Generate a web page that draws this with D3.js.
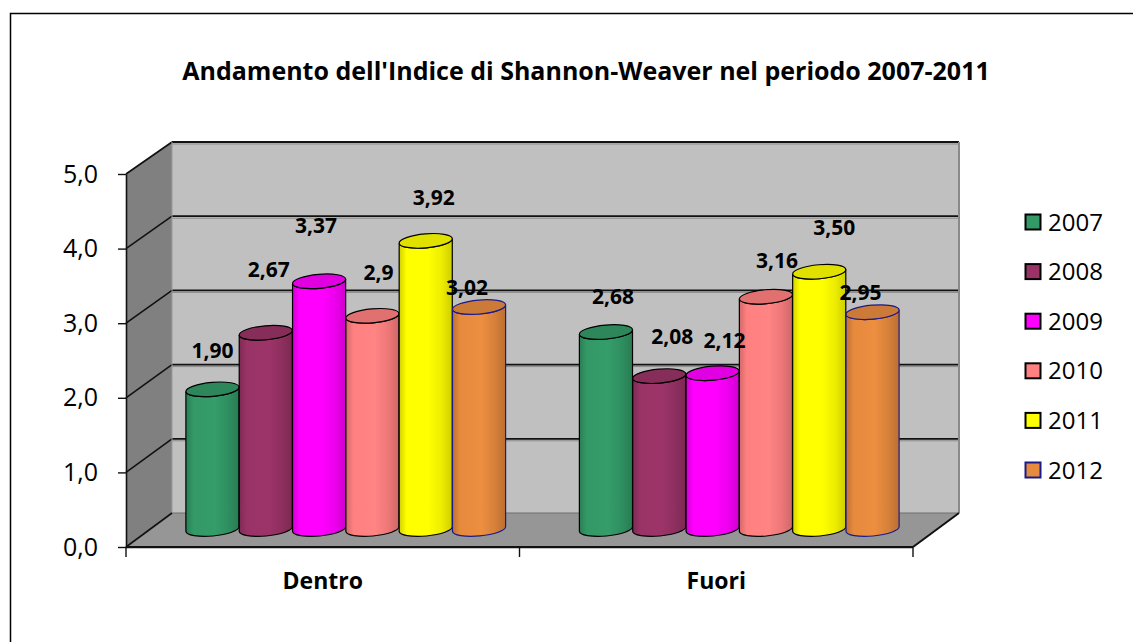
<!DOCTYPE html>
<html>
<head>
<meta charset="utf-8">
<script src="https://cdn.jsdelivr.net/npm/d3@7"></script>
<style>
  body { margin: 0; background: #fff; }
  svg { display: block; }
  text { font-family: "Open Sans", "DejaVu Sans", sans-serif; fill: #000; }
</style>
</head>
<body>
<svg id="chart" width="1133" height="642"></svg>
<script>
// ---- data ----
const title = "Andamento dell'Indice di Shannon-Weaver nel periodo 2007-2011";
const categories = ["Dentro", "Fuori"];
const years = ["2007", "2008", "2009", "2010", "2011", "2012"];
const dentroValues = [1.90, 2.67, 3.37, 2.9, 3.92, 3.02];
const fuoriValues = [2.68, 2.08, 2.12, 3.16, 3.50, 2.95];
// decimals shown in each value label
const dentroDecimals = [2, 2, 2, 1, 2, 2];
const fuoriDecimals = [2, 2, 2, 2, 2, 2];
const yTickValues = [0, 1, 2, 3, 4, 5];

// ---- styling / layout ----
const seriesFill = ["#339966", "#993366", "#FF00FF", "#FF8080", "#FFFF00", "#E68A3E"];
const seriesLine = ["#000", "#000", "#000", "#000", "#000", "#1A1A8C"];
// value label nudges [dx, dy] from the top of each cylinder, per year, per category
const labelNudge = [
  [[0, -39], [7, -36]],
  [[3, -63], [13, -40]],
  [[-3, -56], [12, -33]],
  [[6, -43], [11, -36]],
  [[8, -43], [15, -44]],
  [[-12, -20], [-12, -20]]
];

const valuesByCategory = { "Dentro": dentroValues, "Fuori": fuoriValues };
const decimalsByCategory = { "Dentro": dentroDecimals, "Fuori": fuoriDecimals };
const rows = [];
categories.forEach((c, ci) => {
  years.forEach((y, si) => rows.push({
    category: c, ci, year: y, si,
    value: valuesByCategory[c][si], decimals: decimalsByCategory[c][si]
  }));
});

const svg = d3.select("#chart");
const defs = svg.append("defs");

const itLocale = d3.formatLocale({ decimal: ",", thousands: ".", grouping: [3], currency: ["", "€"] });
const fmt1 = itLocale.format(".1f");
const fmtLabel = d => itLocale.format(`.${d.decimals}f`)(d.value);

// 3D box geometry
const depthX = 46;
const x0 = 126, x1 = 913;
const xCat = d3.scaleBand().domain(categories).range([x0, x1]).paddingInner(0).paddingOuter(0);
const yFront = d3.scaleLinear().domain([0, 5]).range([547, 174]);
const yBack = d3.scaleLinear().domain([0, 5]).range([513, 142]);
const yBar = d3.scaleLinear().domain([0, 5]).range([529, 161.5]);
const xYear = d3.scaleBand().domain(years).range([0, xCat.bandwidth()]).paddingInner(0).paddingOuter(0.69);

// outer frame
svg.append("rect").attr("x", 10.5).attr("y", 13.5).attr("width", 1200).attr("height", 700)
  .attr("fill", "#fff").attr("stroke", "#000").attr("stroke-width", 1.5);

// title
svg.append("text").attr("x", 586).attr("y", 80).attr("text-anchor", "middle")
  .attr("font-size", 25).attr("font-weight", 700).text(title);

// walls
const bx0 = x0 + depthX, bx1 = x1 + depthX;
svg.append("polygon")
  .attr("points", [[x0, yFront(5)], [bx0, yBack(5)], [bx0, yBack(0)], [x0, yFront(0)]].join(" "))
  .attr("fill", "#808080");
svg.append("rect").attr("x", bx0).attr("y", yBack(5)).attr("width", bx1 - bx0).attr("height", yBack(0) - yBack(5))
  .attr("fill", "#C0C0C0");
svg.append("polygon")
  .attr("points", [[x0, yFront(0)], [bx0, yBack(0)], [bx1, yBack(0)], [x1, yFront(0)]].join(" "))
  .attr("fill", "#969696");

// gridlines on back wall and side wall
const grid = svg.append("g");
yTickValues.filter(v => v > 0).forEach(v => {
  grid.append("line").attr("x1", bx0).attr("x2", bx1).attr("y1", yBack(v) + 2).attr("y2", yBack(v) + 2)
    .attr("stroke", "#8a8a8a").attr("stroke-width", 1);
  grid.append("line").attr("x1", bx0).attr("x2", bx1).attr("y1", yBack(v)).attr("y2", yBack(v))
    .attr("stroke", "#111").attr("stroke-width", 1.8);
  grid.append("line").attr("x1", x0).attr("x2", bx0).attr("y1", yFront(v)).attr("y2", yBack(v))
    .attr("stroke", "#111").attr("stroke-width", 1.6);
});
grid.append("line").attr("x1", bx0).attr("x2", bx1).attr("y1", yBack(0)).attr("y2", yBack(0))
  .attr("stroke", "#6e6e6e").attr("stroke-width", 1.2);
grid.append("line").attr("x1", bx1).attr("x2", bx1).attr("y1", yBack(5)).attr("y2", yBack(0))
  .attr("stroke", "#8a8a8a").attr("stroke-width", 2);
grid.append("line").attr("x1", bx0).attr("x2", bx0).attr("y1", yBack(5)).attr("y2", yBack(0))
  .attr("stroke", "#9a9a9a").attr("stroke-width", 1);
// floor edges
grid.append("line").attr("x1", x0).attr("x2", bx0).attr("y1", yFront(0)).attr("y2", yBack(0))
  .attr("stroke", "#111").attr("stroke-width", 1.6);
grid.append("line").attr("x1", x1).attr("x2", bx1).attr("y1", yFront(0)).attr("y2", yBack(0))
  .attr("stroke", "#111").attr("stroke-width", 2);
grid.append("line").attr("x1", x0).attr("x2", x1).attr("y1", yFront(0) + 1).attr("y2", yFront(0) + 1)
  .attr("stroke", "#8a8a8a").attr("stroke-width", 1);
grid.append("line").attr("x1", x0).attr("x2", x1).attr("y1", yFront(0)).attr("y2", yFront(0))
  .attr("stroke", "#111").attr("stroke-width", 2);

// y axis
const yAxis = svg.append("g").attr("transform", `translate(${x0},0)`)
  .call(d3.axisLeft(yFront).tickValues(yTickValues).tickFormat(fmt1).tickSize(8).tickSizeOuter(0).tickPadding(20));
yAxis.select(".domain").attr("stroke", "#111").attr("stroke-width", 1.6);
yAxis.selectAll(".tick line").attr("stroke", "#111").attr("stroke-width", 1.4);
yAxis.selectAll("text").attr("font-size", 25).attr("font-family", "'Open Sans', sans-serif").attr("fill", "#000");

// x axis: category names centered, tick marks at category boundaries
const xAxis = svg.append("g").attr("transform", `translate(0,${yFront(0)})`)
  .call(d3.axisBottom(xCat).tickSize(0).tickPadding(26));
xAxis.select(".domain").remove();
xAxis.selectAll("text").attr("font-size", 23).attr("font-weight", 700)
  .attr("font-family", "'Open Sans', sans-serif").attr("fill", "#000");
const bounds = categories.map(c => xCat(c)).concat([xCat(categories[categories.length - 1]) + xCat.bandwidth()]);
svg.append("g").selectAll("line").data(bounds).join("line")
  .attr("x1", d => d).attr("x2", d => d).attr("y1", yFront(0)).attr("y2", yFront(0) + 10)
  .attr("stroke", "#111").attr("stroke-width", 1.4);

// cylinder gradients
seriesFill.forEach((c, i) => {
  const base = d3.color(c);
  const g = defs.append("linearGradient").attr("id", "cyl" + i).attr("x1", 0).attr("x2", 1).attr("y1", 0).attr("y2", 0);
  [[0, base.darker(0.55)], [0.14, base], [0.55, base.brighter(0.08)], [0.8, base.darker(0.2)], [1, base.darker(0.6)]]
    .forEach(([o, col]) => g.append("stop").attr("offset", o).attr("stop-color", col.formatHex()));
});

// cylinders
const rx = xYear.bandwidth() / 2;
const ry = 7;
const tilt = -5;
const ex = rx * Math.cos(tilt * Math.PI / 180), ey = rx * Math.sin(tilt * Math.PI / 180);
const barShift = depthX / 2;

const bars = svg.append("g").selectAll("g").data(rows).join("g");
bars.each(function (d) {
  const g = d3.select(this);
  const cx = xCat(d.category) + barShift + xYear(d.year) + rx;
  const yt = yBar(d.value), yb = yBar(0);
  d.cx = cx; d.yt = yt;
  const p = `M${cx - ex},${yt - ey} L${cx - ex},${yb - ey} A${rx},${ry} ${tilt} 0 0 ${cx + ex},${yb + ey} L${cx + ex},${yt + ey} A${rx},${ry} ${tilt} 0 1 ${cx - ex},${yt - ey} Z`;
  g.append("path").attr("d", p).attr("fill", `url(#cyl${d.si})`)
    .attr("stroke", seriesLine[d.si]).attr("stroke-width", 1.2);
  g.append("ellipse").attr("cx", cx).attr("cy", yt).attr("rx", rx).attr("ry", ry)
    .attr("transform", `rotate(${tilt},${cx},${yt})`)
    .attr("fill", d3.color(seriesFill[d.si]).darker(0.35).formatHex())
    .attr("stroke", seriesLine[d.si]).attr("stroke-width", 1.2);
});

// value labels
const labelSize = 21;
svg.append("g").selectAll("text").data(rows).join("text")
  .attr("x", d => d.cx + labelNudge[d.si][d.ci][0])
  .attr("y", d => d.yt + labelNudge[d.si][d.ci][1] + 0.36 * labelSize)
  .attr("text-anchor", "middle").attr("font-size", labelSize).attr("font-weight", 700)
  .text(fmtLabel);

// legend
const legendY = d3.scalePoint().domain(years).range([222, 470]);
const legend = svg.append("g").selectAll("g").data(years).join("g")
  .attr("transform", d => `translate(1025,${legendY(d)})`);
legend.append("rect").attr("x", 0.5).attr("y", -7.5).attr("width", 15).attr("height", 15)
  .attr("fill", (d, i) => seriesFill[i]).attr("stroke", (d, i) => i === 5 ? "#1A1A8C" : "#000").attr("stroke-width", 2);
legend.append("text").attr("x", 23).attr("y", 8.5).attr("font-size", 24).text(d => d);
</script>
</body>
</html>
